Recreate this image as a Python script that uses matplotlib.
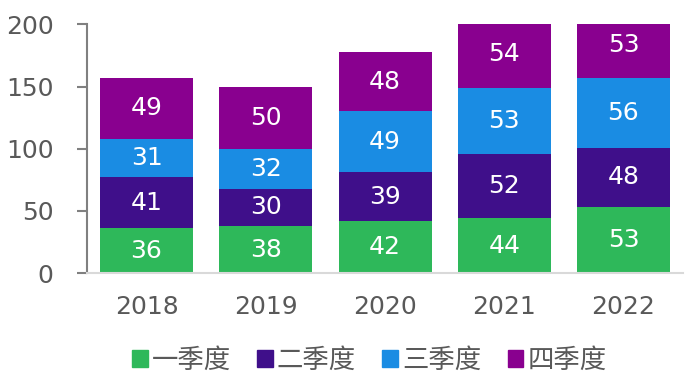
import matplotlib.pyplot as plt
import matplotlib.patches as mpatches
import numpy as np

plt.rcParams['font.family'] = ['Noto Sans CJK SC', 'DejaVu Sans']

years = ['2018', '2019', '2020', '2021', '2022']
quarters = ['一季度', '二季度', '三季度', '四季度']
q1 = [36, 38, 42, 44, 53]
q2 = [41, 30, 39, 52, 48]
q3 = [31, 32, 49, 53, 56]
q4 = [49, 50, 48, 54, 53]
colors = ['#2EB85A', '#3F0F8A', '#1A8CE3', '#89008F']

text_color = '#595959'

fig = plt.figure(figsize=(6.9, 3.82), dpi=100)
ax = fig.add_axes([0.126, 0.285, 0.864, 0.651])

x = np.arange(len(years))
bottom = np.zeros(len(years))
for vals, color in zip([q1, q2, q3, q4], colors):
    vals = np.array(vals, dtype=float)
    ax.bar(x, vals, bottom=bottom, width=0.78, color=color, linewidth=0)
    for xi, b, v in zip(x, bottom, vals):
        ax.text(xi, b + v / 2, f'{int(v)}', ha='center', va='center',
                color='white', fontsize=18, family=['DejaVu Sans'])
    bottom += vals

ax.set_xlim(-0.5, len(years) - 0.5)
ax.set_ylim(0, 200)
ax.set_yticks([0, 50, 100, 150, 200])
ax.set_xticks(x)
ax.set_xticklabels(years)

for side in ['top', 'right']:
    ax.spines[side].set_visible(False)
ax.spines['left'].set_color('#808080')
ax.spines['left'].set_linewidth(1.5)
ax.spines['bottom'].set_color('#D9D9D9')
ax.spines['bottom'].set_linewidth(1.5)

ax.tick_params(axis='y', length=7, width=1.5, color='#808080', pad=17,
               labelsize=18, labelcolor=text_color)
ax.tick_params(axis='x', length=0, pad=16, labelsize=18, labelcolor=text_color)
for lbl in ax.get_xticklabels() + ax.get_yticklabels():
    lbl.set_family(['DejaVu Sans'])

handles = [mpatches.Patch(color=c, label=q) for c, q in zip(colors, quarters)]
fig.legend(handles=handles, loc='lower center', bbox_to_anchor=(0.535, -0.04),
           ncol=4, frameon=False, fontsize=19, labelcolor=text_color,
           handlelength=0.6, handleheight=0.6, handletextpad=0.15,
           columnspacing=1.0)

fig.savefig('out.png', dpi=100)
